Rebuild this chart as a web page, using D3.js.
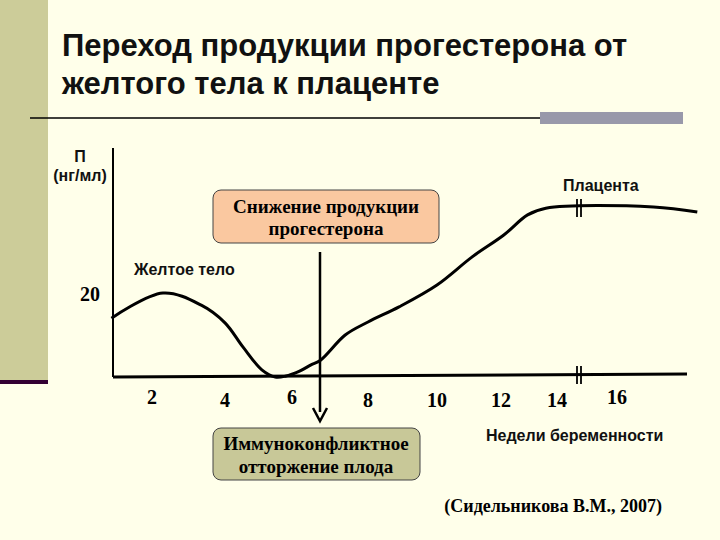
<!DOCTYPE html><html><head><meta charset="utf-8"><script src="https://cdn.jsdelivr.net/npm/d3@7"></script>
<style>body{margin:0}</style></head><body><svg id="c" width="720" height="540"></svg><script>
const weeks=[0.96,2.3,3.35,4,4.54,5.1,5.5,5.8,6.2,6.5,6.75,7.4,8,8.9,10,11.1,12.1,12.95,13.6,16.5,17.1];
const values=[14,20,17.1,12.9,7.1,1.7,0,0.2,1.4,2.9,4,10,13.1,16.7,21.9,28.6,33.8,38.6,40.2,40.5,39.3];
const tickLabels=[2,4,6,8,10,12,14,16];
const svg=d3.select("#c");
svg.append("rect").attr("width",720).attr("height",540).attr("fill","#ffffea");
svg.append("rect").attr("width",48).attr("height",380).attr("fill","#cccc99");
svg.append("rect").attr("y",380).attr("width",48).attr("height",4).attr("fill","#330033");
svg.append("line").attr("x1",30).attr("x2",540).attr("y1",118).attr("y2",118).attr("stroke","#000").attr("stroke-width",1.5);
svg.append("rect").attr("x",540).attr("y",112).attr("width",143).attr("height",12).attr("fill","#9999aa");
const t=svg.append("text").attr("font-family","Liberation Sans, Arial").attr("font-weight","bold").attr("font-size",31).attr("fill","#111");
t.append("tspan").attr("x",62).attr("y",56).text("Переход продукции прогестерона от");
t.append("tspan").attr("x",62).attr("y",94).text("желтого тела к плаценте");
const x=d3.scaleLinear().domain([1,2,4,6,8,10,12,14,16,17]).range([113,152,225,292,368,437,501,557,617,690]);
const y=d3.scaleLinear().domain([0,20]).range([377,293]);
svg.append("line").attr("x1",113).attr("x2",113).attr("y1",148).attr("y2",377).attr("stroke","#000").attr("stroke-width",2);
svg.append("line").attr("x1",113).attr("x2",687).attr("y1",y(0)).attr("y2",y(0)-3).attr("stroke","#000").attr("stroke-width",3);
svg.append("path").datum(weeks.map((w,i)=>[w,values[i]])).attr("d",d3.line().x(d=>x(d[0])).y(d=>y(d[1])).curve(d3.curveCatmullRom))
 .attr("fill","none").attr("stroke","#000").attr("stroke-width",3);
[[579,208],[579,375]].forEach(([bx,by])=>{[-2,2].forEach(o=>svg.append("line").attr("x1",bx+o).attr("x2",bx+o).attr("y1",by-9).attr("y2",by+9).attr("stroke","#000").attr("stroke-width",1.8));});
const serif="Liberation Serif, Times New Roman";
svg.selectAll(".tk").data(tickLabels).join("text").attr("x",d=>x(d)).attr("y",d=>[2,6,16].includes(d)?404:407).attr("text-anchor","middle")
 .attr("font-family",serif).attr("font-weight","bold").attr("font-size",20).text(d=>d);
svg.append("text").attr("x",100).attr("y",301).attr("text-anchor","end").attr("font-family",serif).attr("font-weight","bold").attr("font-size",20).text("20");
const sans="Liberation Sans, Arial";
const lab=(xx,yy,s,a)=>svg.append("text").attr("x",xx).attr("y",yy).attr("text-anchor",a||"start").attr("font-family",sans).attr("font-weight","bold").attr("font-size",16).attr("fill","#111").text(s);
lab(80,162,"П","middle");
lab(80,181,"(нг/мл)","middle");
lab(563,191,"Плацента");
lab(134,275,"Желтое тело");
lab(486,441,"Недели беременности");
svg.append("rect").attr("x",213).attr("y",190).attr("width",226).attr("height",53).attr("rx",8).attr("fill","#fac8a0").attr("stroke","#444");
const st=(xx,yy,s)=>svg.append("text").attr("x",xx).attr("y",yy).attr("text-anchor","middle").attr("font-family",serif).attr("font-weight","bold").attr("font-size",19).text(s);
st(326,213,"Снижение продукции");
st(326,235,"прогестерона");
svg.append("rect").attr("x",213).attr("y",428).attr("width",207).attr("height",52).attr("rx",8).attr("fill","#c8c898").attr("stroke","#444");
st(316,450,"Иммуноконфликтное");
st(316,473,"отторжение плода");
svg.append("line").attr("x1",320).attr("x2",320).attr("y1",252).attr("y2",412).attr("stroke","#000").attr("stroke-width",2.5);
svg.append("path").attr("d","M313,408 L320,421 L327,408").attr("fill","none").attr("stroke","#000").attr("stroke-width",2.5);
svg.append("text").attr("x",662).attr("y",512).attr("text-anchor","end").attr("font-family",serif).attr("font-weight","bold").attr("font-size",18).text("(Сидельникова В.М., 2007)");
</script></body></html>
